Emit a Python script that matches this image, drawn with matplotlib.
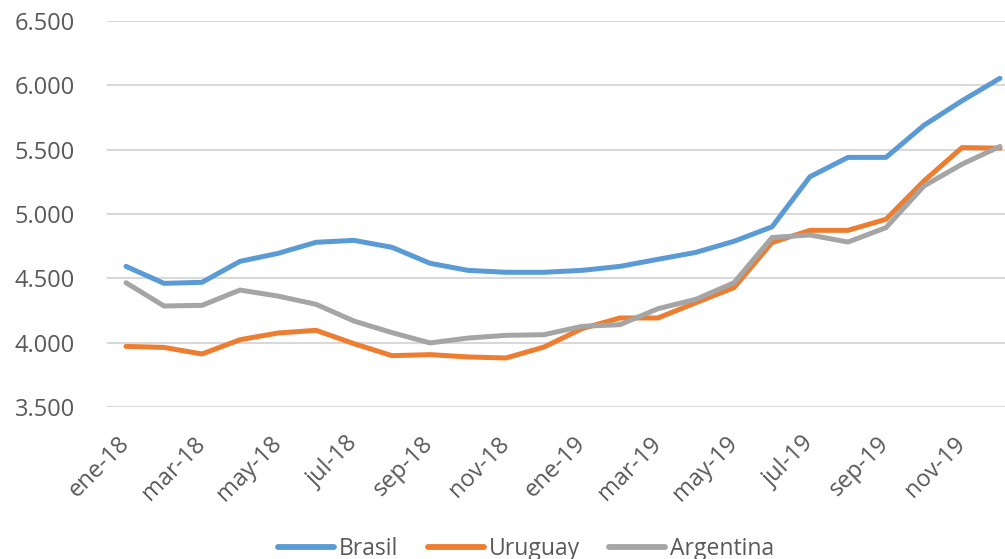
import matplotlib
matplotlib.use('Agg')
import matplotlib.pyplot as plt
from matplotlib.ticker import FuncFormatter
import matplotlib.transforms as mtransforms

months = ['ene-18', 'feb-18', 'mar-18', 'abr-18', 'may-18', 'jun-18', 'jul-18', 'ago-18',
          'sep-18', 'oct-18', 'nov-18', 'dic-18', 'ene-19', 'feb-19', 'mar-19', 'abr-19',
          'may-19', 'jun-19', 'jul-19', 'ago-19', 'sep-19', 'oct-19', 'nov-19', 'dic-19']

brasil = [4593, 4461, 4469, 4632, 4694, 4780, 4795, 4741, 4617, 4562, 4547, 4547,
          4562, 4593, 4648, 4702, 4788, 4900, 5290, 5440, 5440, 5690, 5880, 6055]
uruguay = [3971, 3963, 3912, 4023, 4075, 4096, 3992, 3899, 3907, 3889, 3881, 3966,
           4109, 4192, 4192, 4311, 4428, 4778, 4873, 4873, 4959, 5257, 5516, 5512]
argentina = [4466, 4285, 4290, 4409, 4362, 4298, 4168, 4078, 3998, 4036, 4057, 4062,
             4127, 4140, 4264, 4337, 4466, 4817, 4837, 4782, 4894, 5218, 5387, 5525]

plt.rcParams['font.family'] = ['Open Sans', 'DejaVu Sans']
txt_color = '#595959'

W, H = 1005, 559
fig = plt.figure(figsize=(W / 100, H / 100), dpi=100)
left, right, top, bottom = 107, 1019, 21, 407
ax = fig.add_axes([left / W, 1 - bottom / H, (right - left) / W, (bottom - top) / H])

x = list(range(len(months)))
ax.plot(x, brasil, color='#5B9BD5', lw=3.6, label='Brasil', solid_capstyle='round')
ax.plot(x, uruguay, color='#ED7D31', lw=3.6, label='Uruguay', solid_capstyle='round')
ax.plot(x, argentina, color='#A5A5A5', lw=3.6, label='Argentina', solid_capstyle='round')

ax.set_xlim(-0.5, len(months) - 0.5)
ax.set_ylim(3500, 6500)
ax.set_yticks(range(3500, 6501, 500))
ax.yaxis.set_major_formatter(FuncFormatter(lambda v, p: f'{int(v):,}'.replace(',', '.')))
ax.grid(axis='y', color='#D9D9D9', lw=1.5)
ax.set_axisbelow(True)
for s in ax.spines.values():
    s.set_visible(False)

ax.set_xticks(x[::2])
ax.set_xticklabels(months[::2], rotation=45, ha='right', va='center', rotation_mode='anchor')
offset = mtransforms.ScaledTranslation(4 / 100, 0, fig.dpi_scale_trans)
for lbl in ax.get_xticklabels():
    lbl.set_transform(lbl.get_transform() + offset)
ax.tick_params(axis='x', length=0, pad=24, labelsize=17, labelcolor=txt_color)
ax.tick_params(axis='y', length=0, pad=23, labelsize=17, labelcolor=txt_color)

leg = fig.legend(loc='center', bbox_to_anchor=(526 / W, 1 - 549 / H), ncol=3, frameon=False,
                 fontsize=16.5, handlelength=2.45, handletextpad=0.2, columnspacing=1.3,
                 labelcolor=txt_color)
for h in leg.get_lines():
    h.set_linewidth(4.2)

fig.savefig('out.png', dpi=100)
